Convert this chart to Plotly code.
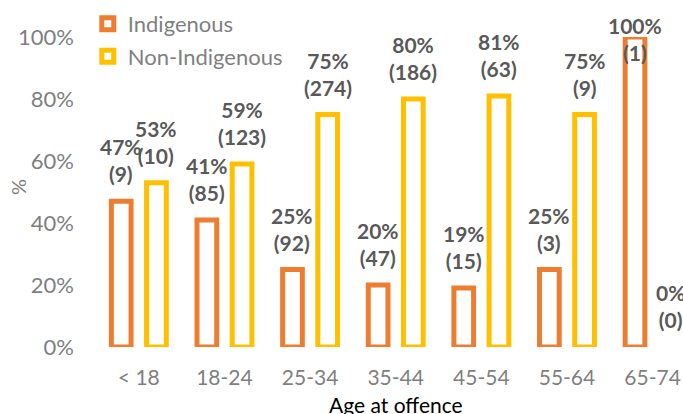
import plotly.graph_objects as go

categories = ["< 18", "18-24", "25-34", "35-44", "45-54", "55-64", "65-74"]
indigenous_pct = [47, 41, 25, 20, 19, 25, 100]
indigenous_n = [9, 85, 92, 47, 15, 3, 1]
non_indigenous_pct = [53, 59, 75, 80, 81, 75, 0]
non_indigenous_n = [10, 123, 274, 186, 63, 9, 0]
ytick_vals = [0, 0.2, 0.4, 0.6, 0.8, 1.0]

ORANGE = "#ED7D31"
YELLOW = "#FFC000"
FONT = "Lato"
TICK_GREY = "#7F7F7F"
LABEL_GREY = "#595959"

BAR_OFFSET = 0.2056   # half distance between paired bar centres (category units)
LABEL_CEIL = 0.86     # labels are kept inside the chart area (as in the original)

fig = go.Figure()
for name, vals, col in [("Indigenous", indigenous_pct, ORANGE),
                        ("Non-Indigenous", non_indigenous_pct, YELLOW)]:
    fig.add_trace(go.Bar(
        x=categories, y=[v / 100 for v in vals], name=name, legendgroup=name,
        marker=dict(color="white",
                    line=dict(color=col, width=[5 if v > 0 else 0 for v in vals])),
        cliponaxis=False,
    ))

annotations = []
for sign, vals, counts in [(-1, indigenous_pct, indigenous_n),
                           (1, non_indigenous_pct, non_indigenous_n)]:
    for i, (v, n) in enumerate(zip(vals, counts)):
        annotations.append(dict(
            x=i + sign * BAR_OFFSET, y=min(v / 100, LABEL_CEIL), xref="x", yref="y",
            text=f"<b>{v}%<br>({n})</b>",
            showarrow=False, yanchor="bottom", xanchor="center", yshift=13,
            font=dict(family=FONT, size=21, color=LABEL_GREY),
        ))

annotations.append(dict(
    x=3, y=-0.185, xref="x", yref="paper", text="Age at offence",
    showarrow=False, xanchor="center", yanchor="middle",
    font=dict(family=FONT, size=21, color="#000000"),
))
annotations.append(dict(
    x=-0.133, y=0.516, xref="paper", yref="paper", text="%", textangle=-90,
    showarrow=False, xanchor="center", yanchor="middle",
    font=dict(family=FONT, size=20, color=TICK_GREY),
))

fig.update_layout(
    width=683, height=414,
    margin=dict(l=96, r=0, t=37, b=67, pad=0, autoexpand=False),
    paper_bgcolor="white", plot_bgcolor="white",
    barmode="group", bargap=0.178, bargroupgap=0.44,
    font=dict(family=FONT, size=21, color=TICK_GREY),
    showlegend=True,
    legend=dict(
        x=-0.014, y=1.11, xanchor="left", yanchor="top",
        bgcolor="rgba(0,0,0,0)",
        font=dict(family=FONT, size=22, color=TICK_GREY),
        tracegroupgap=1, itemwidth=30,
    ),
    annotations=annotations,
    xaxis=dict(
        type="category", range=[-0.5, 6.355], showgrid=False, showline=False,
        zeroline=False, ticks="", tickangle=0, automargin=False,
        tickfont=dict(family=FONT, size=21, color=TICK_GREY),
        ticklabelstandoff=16,
    ),
    yaxis=dict(
        range=[0, 1], tickvals=ytick_vals, tickformat=".0%", showgrid=False,
        showline=False, zeroline=False, ticks="", automargin=False,
        tickfont=dict(family=FONT, size=22, color=TICK_GREY),
        ticklabelstandoff=21,
    ),
)

fig.write_html("out.html")
